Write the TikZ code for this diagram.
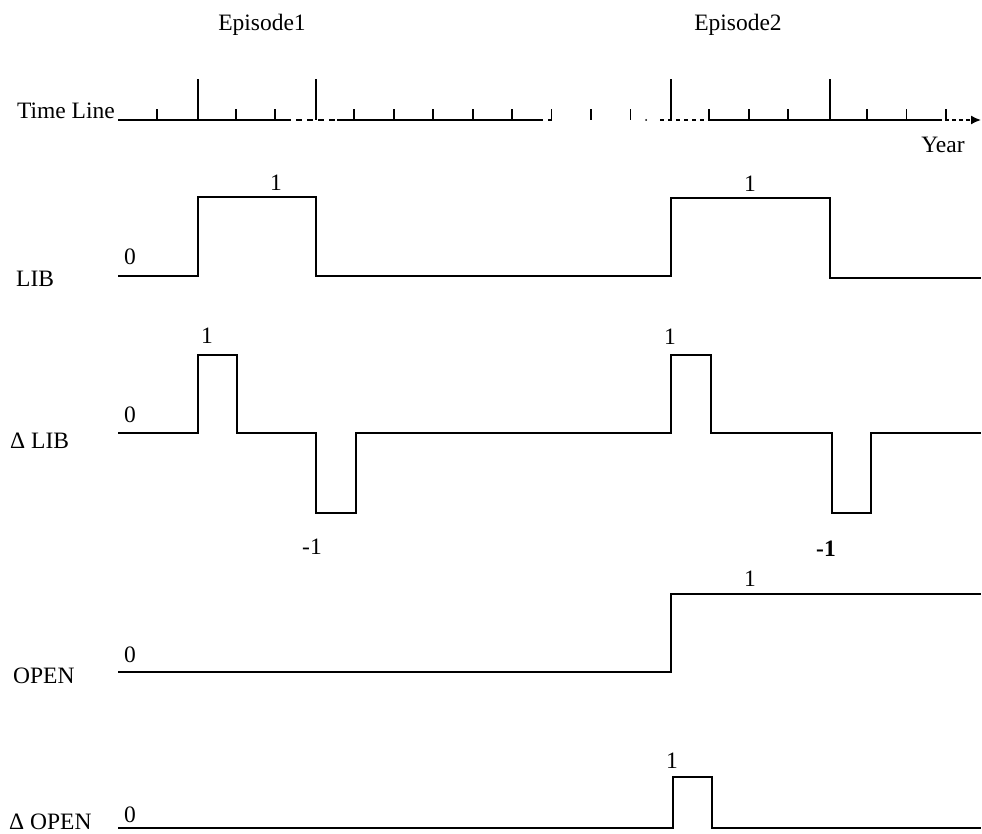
\documentclass[tikz,border=0pt]{standalone}
\usepackage{fontspec}
\setmainfont{Liberation Serif}
\usetikzlibrary{arrows.meta}
\begin{document}
\begin{tikzpicture}[x=1pt,y=-1pt,
  lbl/.style={font=\fontsize{23.5}{27}\selectfont, inner sep=0pt, anchor=base},
  lblw/.style={lbl, anchor=base west},
  wave/.style={line width=2.2pt, line join=miter, line cap=butt},
  axisline/.style={line width=1.6pt},
  smalltick/.style={line width=1.8pt},
  bigtick/.style={line width=1.8pt},
  ]
\useasboundingbox (0,0) rectangle (982,834);
% headings
\node[lbl] (ep1) at (262,31) {Episode1};
\node[lbl] (ep2) at (738,31) {Episode2};
% time line
\node[lbl, anchor=base east] (tl) at (115,119) {Time Line};
\coordinate (tstart) at (118,120);
\coordinate (tend) at (981,120);
\draw[axisline] (tstart) -- (285,120);
\draw[axisline, dash pattern=on 6pt off 5pt] (285,120) -- (337,120);
\draw[axisline] (337,120) -- (543,120);
\draw[axisline] (548,120) -- (552,120);
\fill (646,120) circle (1pt);
\draw[axisline, dash pattern=on 4pt off 4pt] (660,120) -- (708,120);
\draw[axisline] (708,120) -- (938,120);
\draw[axisline, dash pattern=on 4pt off 3pt, -{Latex[length=10pt,width=9pt]}] (938,120) -- (tend);
\foreach \k in {0,2,3,5,6,7,8,9,10,11,12,14,15,16,18,19,20}{
  \draw[smalltick] ({157+39.45*\k},120) -- ({157+39.45*\k},109);
}
\foreach \xx in {198,316,671,830}{
  \draw[bigtick] (\xx,120) -- (\xx,79);
}
\node[lbl] (year) at (943,153) {Year};
% LIB
\node[lblw] (liblab) at (16,287) {LIB};
\node[lbl] (lib0) at (130,265) {0};
\node[lbl] (lib1a) at (276,191) {1};
\node[lbl] (lib1b) at (750,192) {1};
\draw[wave] (118,276) -- (198,276) -- (198,197) -- (316,197) -- (316,276) -- (671,276)
  -- (671,198) -- (830,198) -- (830,278) -- (981,278);
% Delta LIB
\node[lblw] (dliblab) at (10,448) {Δ LIB};
\node[lbl] (dlib0) at (130,422) {0};
\node[lbl] (dlib1a) at (207,343) {1};
\node[lbl] (dlib1b) at (670,344) {1};
\node[lbl] (dlibm1a) at (312,554) {-1};
\node[lbl, font=\fontsize{23.5}{27}\selectfont\bfseries] (dlibm1b) at (826,556) {-1};
\draw[wave] (118,433) -- (198,433) -- (198,355) -- (237,355) -- (237,433) -- (316,433)
  -- (316,513) -- (356,513) -- (356,433) -- (671,433) -- (671,355) -- (711,355)
  -- (711,433) -- (832,433) -- (832,513) -- (871,513) -- (871,433) -- (981,433);
% OPEN
\node[lblw] (openlab) at (13,683) {OPEN};
\node[lbl] (open0) at (130,662) {0};
\node[lbl] (open1) at (750,586) {1};
\draw[wave] (118,672) -- (671,672) -- (671,594) -- (981,594);
% Delta OPEN
\node[lblw] (dopenlab) at (9,829) {Δ OPEN};
\node[lbl] (dopen0) at (130,822) {0};
\node[lbl] (dopen1) at (672,768) {1};
\draw[wave] (118,828) -- (673,828) -- (673,777) -- (712,777) -- (712,828) -- (981,828);
\end{tikzpicture}
\end{document}
